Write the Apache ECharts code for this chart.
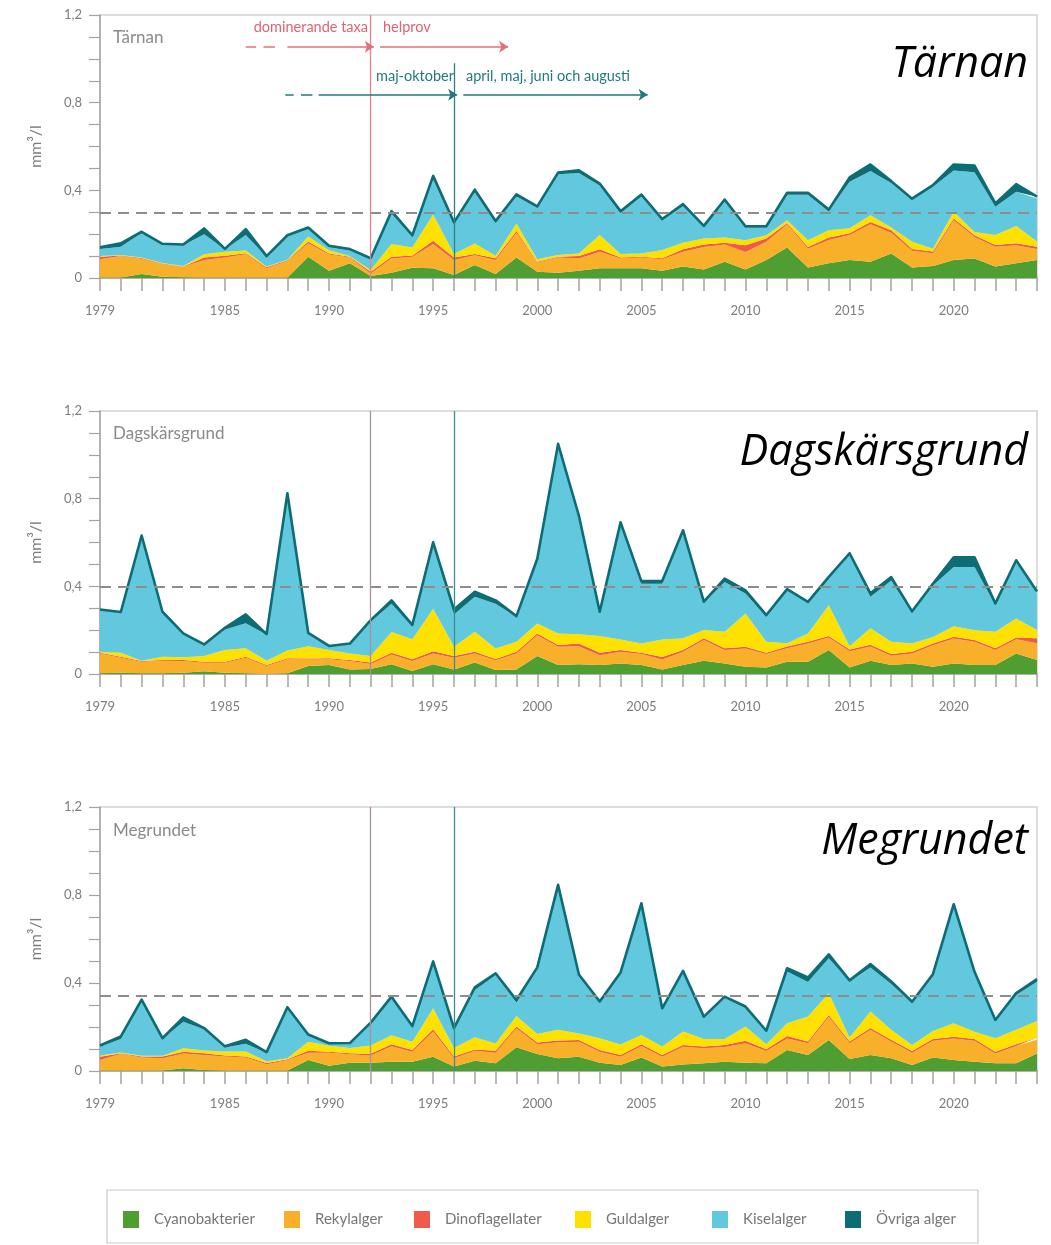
<!DOCTYPE html>
<html><head><meta charset="utf-8">
<script src="https://cdn.jsdelivr.net/npm/echarts/dist/echarts.min.js"></script>
<style>html,body{margin:0;padding:0;background:#fff}#c{width:1051px;height:1245px}</style>
</head><body><div id="c"></div>
<script>
// ---------------- DATA ----------------
const years = [1979,1980,1981,1982,1983,1984,1985,1986,1987,1988,
  1989,1990,1991,1992,1993,1994,1995,1996,1997,1998,
  1999,2000,2001,2002,2003,2004,2005,2006,2007,2008,
  2009,2010,2011,2012,2013,2014,2015,2016,2017,2018,
  2019,2020,2021,2022,2023,2024];
const xLabelYears = [1979,1985,1990,1995,2000,2005,2010,2015,2020];
const groupNames = ['Cyanobakterier','Rekylalger','Dinoflagellater','Guldalger','Kiselalger','Övriga alger'];
const stations = ['Tärnan','Dagskärsgrund','Megrundet'];
const thresholds = [0.3, 0.4, 0.345];

// Tärnan (mm3/l)
const tarnanCyano = [0.002,0.002,0.018,0.006,0.003,0.002,0.002,0.002,0.002,0.002,
  0.097,0.033,0.067,0.009,0.024,0.047,0.044,0.014,0.059,0.018,
  0.094,0.029,0.024,0.033,0.044,0.044,0.044,0.033,0.052,0.039,
  0.074,0.039,0.082,0.139,0.048,0.067,0.082,0.074,0.112,0.048,
  0.055,0.082,0.089,0.052,0.067,0.082];
const tarnanRekyl = [0.083,0.098,0.070,0.058,0.048,0.080,0.092,0.106,0.042,0.076,
  0.061,0.074,0.027,0.012,0.065,0.050,0.111,0.068,0.045,0.064,
  0.112,0.042,0.070,0.056,0.076,0.045,0.050,0.052,0.068,0.103,
  0.079,0.080,0.083,0.106,0.086,0.106,0.114,0.171,0.094,0.076,
  0.058,0.182,0.098,0.091,0.083,0.050];
const tarnanDino = [0.012,0.003,0.003,0.002,0.001,0.012,0.008,0.005,0.005,0.003,
  0.008,0.005,0.003,0.008,0.008,0.006,0.015,0.012,0.005,0.008,
  0.008,0.003,0.003,0.011,0.011,0.005,0.003,0.005,0.011,0.011,
  0.008,0.030,0.015,0.006,0.008,0.012,0.008,0.011,0.012,0.008,
  0.008,0.008,0.008,0.008,0.008,0.011];
const tarnanGuld = [0.003,0.002,0.003,0.002,0.003,0.014,0.018,0.012,0.003,0.002,
  0.023,0.015,0.003,0.008,0.058,0.036,0.120,0.015,0.048,0.012,
  0.035,0.011,0.008,0.012,0.065,0.015,0.015,0.038,0.030,0.027,
  0.024,0.023,0.015,0.012,0.030,0.033,0.023,0.030,0.012,0.033,
  0.012,0.030,0.015,0.045,0.079,0.023];
const tarnanKisel = [0.032,0.038,0.112,0.085,0.095,0.092,0.011,0.071,0.045,0.109,
  0.035,0.015,0.027,0.048,0.139,0.048,0.164,0.136,0.235,0.150,
  0.124,0.236,0.368,0.367,0.226,0.188,0.261,0.136,0.167,0.053,
  0.165,0.058,0.035,0.117,0.208,0.088,0.212,0.202,0.203,0.192,
  0.283,0.189,0.273,0.129,0.156,0.197];
const tarnanOvriga = [0.008,0.015,0.005,0.003,0.003,0.026,0.002,0.027,0.003,0.003,
  0.006,0.005,0.005,0.005,0.011,0.008,0.012,0.009,0.011,0.008,
  0.009,0.006,0.008,0.012,0.009,0.008,0.008,0.005,0.009,0.005,
  0.008,0.006,0.006,0.009,0.009,0.006,0.020,0.030,0.009,0.005,
  0.008,0.027,0.030,0.015,0.035,0.008];

// Dagskärsgrund
const dagCyano = [0.003,0.006,0.003,0.003,0.006,0.012,0.006,0.003,0.000,0.003,
  0.036,0.041,0.021,0.023,0.045,0.014,0.045,0.021,0.052,0.018,
  0.021,0.082,0.041,0.044,0.041,0.048,0.041,0.021,0.041,0.061,
  0.048,0.033,0.030,0.056,0.056,0.109,0.030,0.061,0.041,0.048,
  0.033,0.048,0.041,0.041,0.094,0.064];
const dagRekyl = [0.091,0.068,0.053,0.058,0.053,0.039,0.045,0.071,0.036,0.064,
  0.030,0.026,0.038,0.023,0.044,0.045,0.048,0.053,0.042,0.045,
  0.073,0.095,0.083,0.083,0.045,0.053,0.050,0.045,0.061,0.094,
  0.061,0.083,0.061,0.061,0.083,0.058,0.074,0.064,0.042,0.045,
  0.098,0.114,0.106,0.068,0.064,0.076];
const dagDino = [0.003,0.005,0.003,0.003,0.005,0.005,0.005,0.005,0.005,0.005,
  0.005,0.005,0.005,0.006,0.008,0.008,0.011,0.008,0.008,0.005,
  0.008,0.008,0.008,0.012,0.011,0.008,0.006,0.012,0.008,0.008,
  0.008,0.008,0.006,0.008,0.008,0.006,0.008,0.008,0.008,0.008,
  0.008,0.008,0.008,0.008,0.009,0.023];
const dagGuld = [0.005,0.018,0.002,0.015,0.012,0.026,0.053,0.038,0.020,0.035,
  0.056,0.038,0.030,0.030,0.095,0.091,0.194,0.042,0.091,0.048,
  0.045,0.045,0.053,0.042,0.076,0.048,0.042,0.079,0.053,0.038,
  0.076,0.152,0.050,0.015,0.038,0.141,0.015,0.076,0.056,0.038,
  0.030,0.048,0.045,0.076,0.086,0.038];
const dagKisel = [0.189,0.183,0.568,0.202,0.106,0.050,0.094,0.114,0.118,0.715,
  0.058,0.015,0.042,0.156,0.129,0.058,0.288,0.147,0.159,0.205,
  0.114,0.291,0.860,0.533,0.106,0.530,0.273,0.255,0.485,0.124,
  0.227,0.091,0.114,0.242,0.139,0.124,0.418,0.144,0.280,0.141,
  0.235,0.270,0.288,0.121,0.258,0.167];
const dagOvriga = [0.003,0.003,0.003,0.003,0.003,0.003,0.008,0.041,0.003,0.003,
  0.003,0.003,0.003,0.008,0.015,0.008,0.015,0.023,0.023,0.015,
  0.003,0.005,0.005,0.008,0.005,0.005,0.012,0.012,0.008,0.005,
  0.015,0.015,0.008,0.005,0.005,0.005,0.006,0.015,0.015,0.006,
  0.008,0.045,0.045,0.008,0.008,0.008];

// Megrundet
const megCyano = [0.002,0.002,0.002,0.002,0.012,0.005,0.002,0.002,0.002,0.002,
  0.050,0.024,0.038,0.038,0.042,0.042,0.065,0.020,0.047,0.035,
  0.108,0.077,0.058,0.065,0.038,0.027,0.061,0.020,0.030,0.035,
  0.042,0.038,0.035,0.095,0.073,0.141,0.055,0.073,0.058,0.027,
  0.061,0.050,0.042,0.035,0.035,0.080];
const megRekyl = [0.048,0.076,0.059,0.056,0.068,0.068,0.064,0.059,0.029,0.048,
  0.033,0.059,0.038,0.032,0.071,0.045,0.114,0.038,0.045,0.048,
  0.086,0.045,0.073,0.068,0.050,0.038,0.053,0.045,0.080,0.068,
  0.067,0.088,0.056,0.053,0.053,0.106,0.071,0.114,0.076,0.056,
  0.077,0.098,0.095,0.045,0.079,0.062];
const megDino = [0.015,0.003,0.005,0.008,0.008,0.008,0.005,0.005,0.005,0.003,
  0.009,0.005,0.005,0.008,0.009,0.008,0.011,0.008,0.006,0.009,
  0.008,0.008,0.008,0.008,0.008,0.008,0.008,0.008,0.008,0.008,
  0.009,0.011,0.008,0.011,0.008,0.008,0.008,0.008,0.008,0.008,
  0.008,0.008,0.008,0.008,0.008,0.009];
const megGuld = [0.005,0.003,0.003,0.003,0.015,0.012,0.018,0.023,0.008,0.005,
  0.041,0.027,0.023,0.038,0.041,0.038,0.095,0.038,0.055,0.033,
  0.048,0.038,0.048,0.030,0.053,0.048,0.042,0.038,0.061,0.035,
  0.027,0.065,0.023,0.058,0.114,0.098,0.018,0.076,0.045,0.027,
  0.036,0.061,0.033,0.061,0.065,0.076];
const megKisel = [0.041,0.061,0.252,0.077,0.121,0.097,0.018,0.035,0.039,0.229,
  0.030,0.008,0.020,0.098,0.167,0.068,0.208,0.083,0.215,0.311,
  0.061,0.298,0.656,0.265,0.164,0.324,0.595,0.171,0.273,0.098,
  0.188,0.086,0.058,0.235,0.156,0.159,0.255,0.200,0.208,0.194,
  0.255,0.538,0.270,0.080,0.159,0.179];
const megOvriga = [0.005,0.012,0.003,0.003,0.020,0.005,0.005,0.018,0.003,0.003,
  0.003,0.003,0.003,0.006,0.008,0.003,0.005,0.008,0.012,0.008,
  0.012,0.005,0.003,0.003,0.003,0.003,0.003,0.003,0.003,0.003,
  0.005,0.005,0.003,0.015,0.021,0.018,0.005,0.015,0.012,0.003,
  0.003,0.003,0.003,0.003,0.008,0.012];

// ---------------- CHART ----------------
const stationData = [
  [tarnanCyano, tarnanRekyl, tarnanDino, tarnanGuld, tarnanKisel, tarnanOvriga],
  [dagCyano, dagRekyl, dagDino, dagGuld, dagKisel, dagOvriga],
  [megCyano, megRekyl, megDino, megGuld, megKisel, megOvriga]
];
const colors = ['#4f9e31','#f8b02a','#ef5a4a','#ffe100','#62c8de','#0e6c74'];
const gridTops = [15, 411, 807];
const gridHeights = [263, 263, 264];
const axisGray = '#a3a3a3';
const textGray = '#7d7d7d';
const font = 'Lato';

const chart = echarts.init(document.getElementById('c'), null, {renderer:'canvas'});
const grids = [], xAxes = [], yAxes = [], series = [];

function seg(x1, y1, x2, y2, color, arrow, width) {
  return [
    {coord:[x1, y1], symbol:'none', lineStyle:{color:color, width:width || 1.5, type:'solid'}},
    {coord:[x2, y2], symbol: arrow ? 'arrow' : 'none', symbolSize: 9}
  ];
}

stationData.forEach((layers, g) => {
  grids.push({left:100, right:14, top:gridTops[g], height:gridHeights[g],
    show:true, borderColor:'#d2d2d2', borderWidth:1.5, backgroundColor:'transparent'});
  // visible category axis (index 2g)
  xAxes.push({
    type:'category', gridIndex:g, data: years.map(String), boundaryGap:false, position:'bottom',
    axisLine:{show:true, onZero:false, lineStyle:{color:axisGray, width:1.5}},
    axisTick:{show:true, interval:0, length:13, lineStyle:{color:axisGray, width:1.5}},
    splitLine:{show:false},
    axisLabel:{interval:0, color:textGray, fontSize:13, fontFamily:font, margin:26,
      formatter: v => xLabelYears.includes(Number(v)) ? v : ''}
  });
  // hidden continuous year axis for the annotation lines (index 2g+1)
  xAxes.push({type:'value', gridIndex:g, min:years[0], max:years[years.length-1],
    position:'top', show:false, splitLine:{show:false}});
  yAxes.push({
    type:'value', gridIndex:g, min:0, max:1.2, interval:0.4,
    name:'mm³/l', nameLocation:'middle', nameGap:56,
    nameTextStyle:{color:textGray, fontSize:16, fontFamily:font},
    axisLine:{show:true, lineStyle:{color:axisGray, width:1.5}},
    axisTick:{show:true, length:11, lineStyle:{color:axisGray, width:1.2}},
    minorTick:{show:true, splitNumber:4, length:11, lineStyle:{color:axisGray, width:1.2}},
    splitLine:{show:false}, minorSplitLine:{show:false},
    axisLabel:{color:textGray, fontSize:13, fontFamily:font, margin:18,
      formatter: v => v === 0 ? '0' : v.toFixed(1).replace('.', ',')}
  });
  layers.forEach((vals, k) => {
    series.push({
      name: groupNames[k], type:'line', xAxisIndex:2*g, yAxisIndex:g, stack:'st'+g,
      data: vals,
      symbol:'none', showSymbol:false, smooth:false,
      lineStyle: k === 5 ? {width:2.6, color:colors[5], join:'round'} : {width:0},
      itemStyle:{color:colors[k]},
      areaStyle:{color:colors[k], opacity:1},
      emphasis:{disabled:true}, z:2
    });
  });
  const vlineA = g === 0 ? '#e8838b' : '#a8939a';
  const vlineB = g === 0 ? '#2f8083' : '#3f8c8e';
  const ml = [
    {yAxis: thresholds[g], lineStyle:{type:[11,7], color:'#8d8d8d', width:2}},
    seg(1992, 0, 1992, 1.2, vlineA, false, 1.3),
    seg(1996, 0, 1996, g === 0 ? 0.98 : 1.2, vlineB, false, 1.3)
  ];
  if (g === 0) {
    const red = '#e46f78', teal = '#23787c';
    ml.push(seg(1986.0, 1.055, 1986.5, 1.055, red, false));
    ml.push(seg(1986.85, 1.055, 1987.4, 1.055, red, false));
    ml.push(seg(1988.0, 1.055, 1992.15, 1.055, red, true));
    ml.push(seg(1992.45, 1.055, 1998.6, 1.055, red, true));
    ml.push(seg(1987.9, 0.836, 1988.3, 0.836, teal, false));
    ml.push(seg(1988.65, 0.836, 1989.2, 0.836, teal, false));
    ml.push(seg(1989.5, 0.836, 1996.15, 0.836, teal, true));
    ml.push(seg(1996.45, 0.836, 2005.3, 0.836, teal, true));
  }
  series.push({
    type:'line', xAxisIndex:2*g+1, yAxisIndex:g, data:[], z:5, silent:true,
    markLine:{silent:true, symbol:['none','none'], animation:false,
      label:{show:false}, emphasis:{disabled:true}, data: ml}
  });
});

const smallLabelTops = [29, 425, 822];
const bigLabelY = [65, 453, 842];
const graphic = [
  {type:'rect', shape:{x:107, y:1190, width:871, height:53},
    style:{fill:'none', stroke:'#c9c9c9', lineWidth:1.2}, silent:true}
];
stations.forEach((s, g) => {
  graphic.push({type:'text', x:113, y:smallLabelTops[g],
    style:{text:s, fill:'#8a8a8a', font:'17px Lato'}});
  graphic.push({type:'text', x:1028, y:bigLabelY[g],
    style:{text:s, fill:'#000', font:'italic 43px "Open Sans"',
      align:'right', verticalAlign:'middle', textAlign:'right', textVerticalAlign:'middle'}});
});
[
  {t:'dominerande taxa', x:368, y:27, c:'#e0636d', a:'right'},
  {t:'helprov', x:383, y:27, c:'#e0636d', a:'left'},
  {t:'maj-oktober', x:376, y:76, c:'#23787c', a:'left'},
  {t:'april, maj, juni och augusti', x:466, y:76, c:'#23787c', a:'left'}
].forEach(o => graphic.push({type:'text', x:o.x, y:o.y,
  style:{text:o.t, fill:o.c, font:'14.5px Lato', align:o.a, verticalAlign:'middle',
    textAlign:o.a, textVerticalAlign:'middle'}}));

// single legend; fixed-width rich-text blocks space the items like the reference
const legendTextWidths = [130, 99, 130, 106, 102, 90];
const legendRich = {};
legendTextWidths.forEach((w, i) => {
  legendRich['w' + i] = {width:w, color:'#767676', fontSize:15, fontFamily:font,
    backgroundColor:'rgba(255,255,255,0)'};
});
const legend = {
  left:123, top:1211, padding:0, icon:'rect', itemGap:0,
  itemWidth:16, itemHeight:17, selectedMode:false,
  data: groupNames,
  formatter: name => '{w' + groupNames.indexOf(name) + '|' + name + '}',
  textStyle:{color:'#767676', fontSize:15, fontFamily:font, padding:[0,0,0,10], rich:legendRich}
};

chart.setOption({
  animation:false,
  backgroundColor:'#fff',
  color: colors,
  grid: grids, xAxis: xAxes, yAxis: yAxes,
  series: series, legend: legend, graphic: graphic
});
</script></body></html>
